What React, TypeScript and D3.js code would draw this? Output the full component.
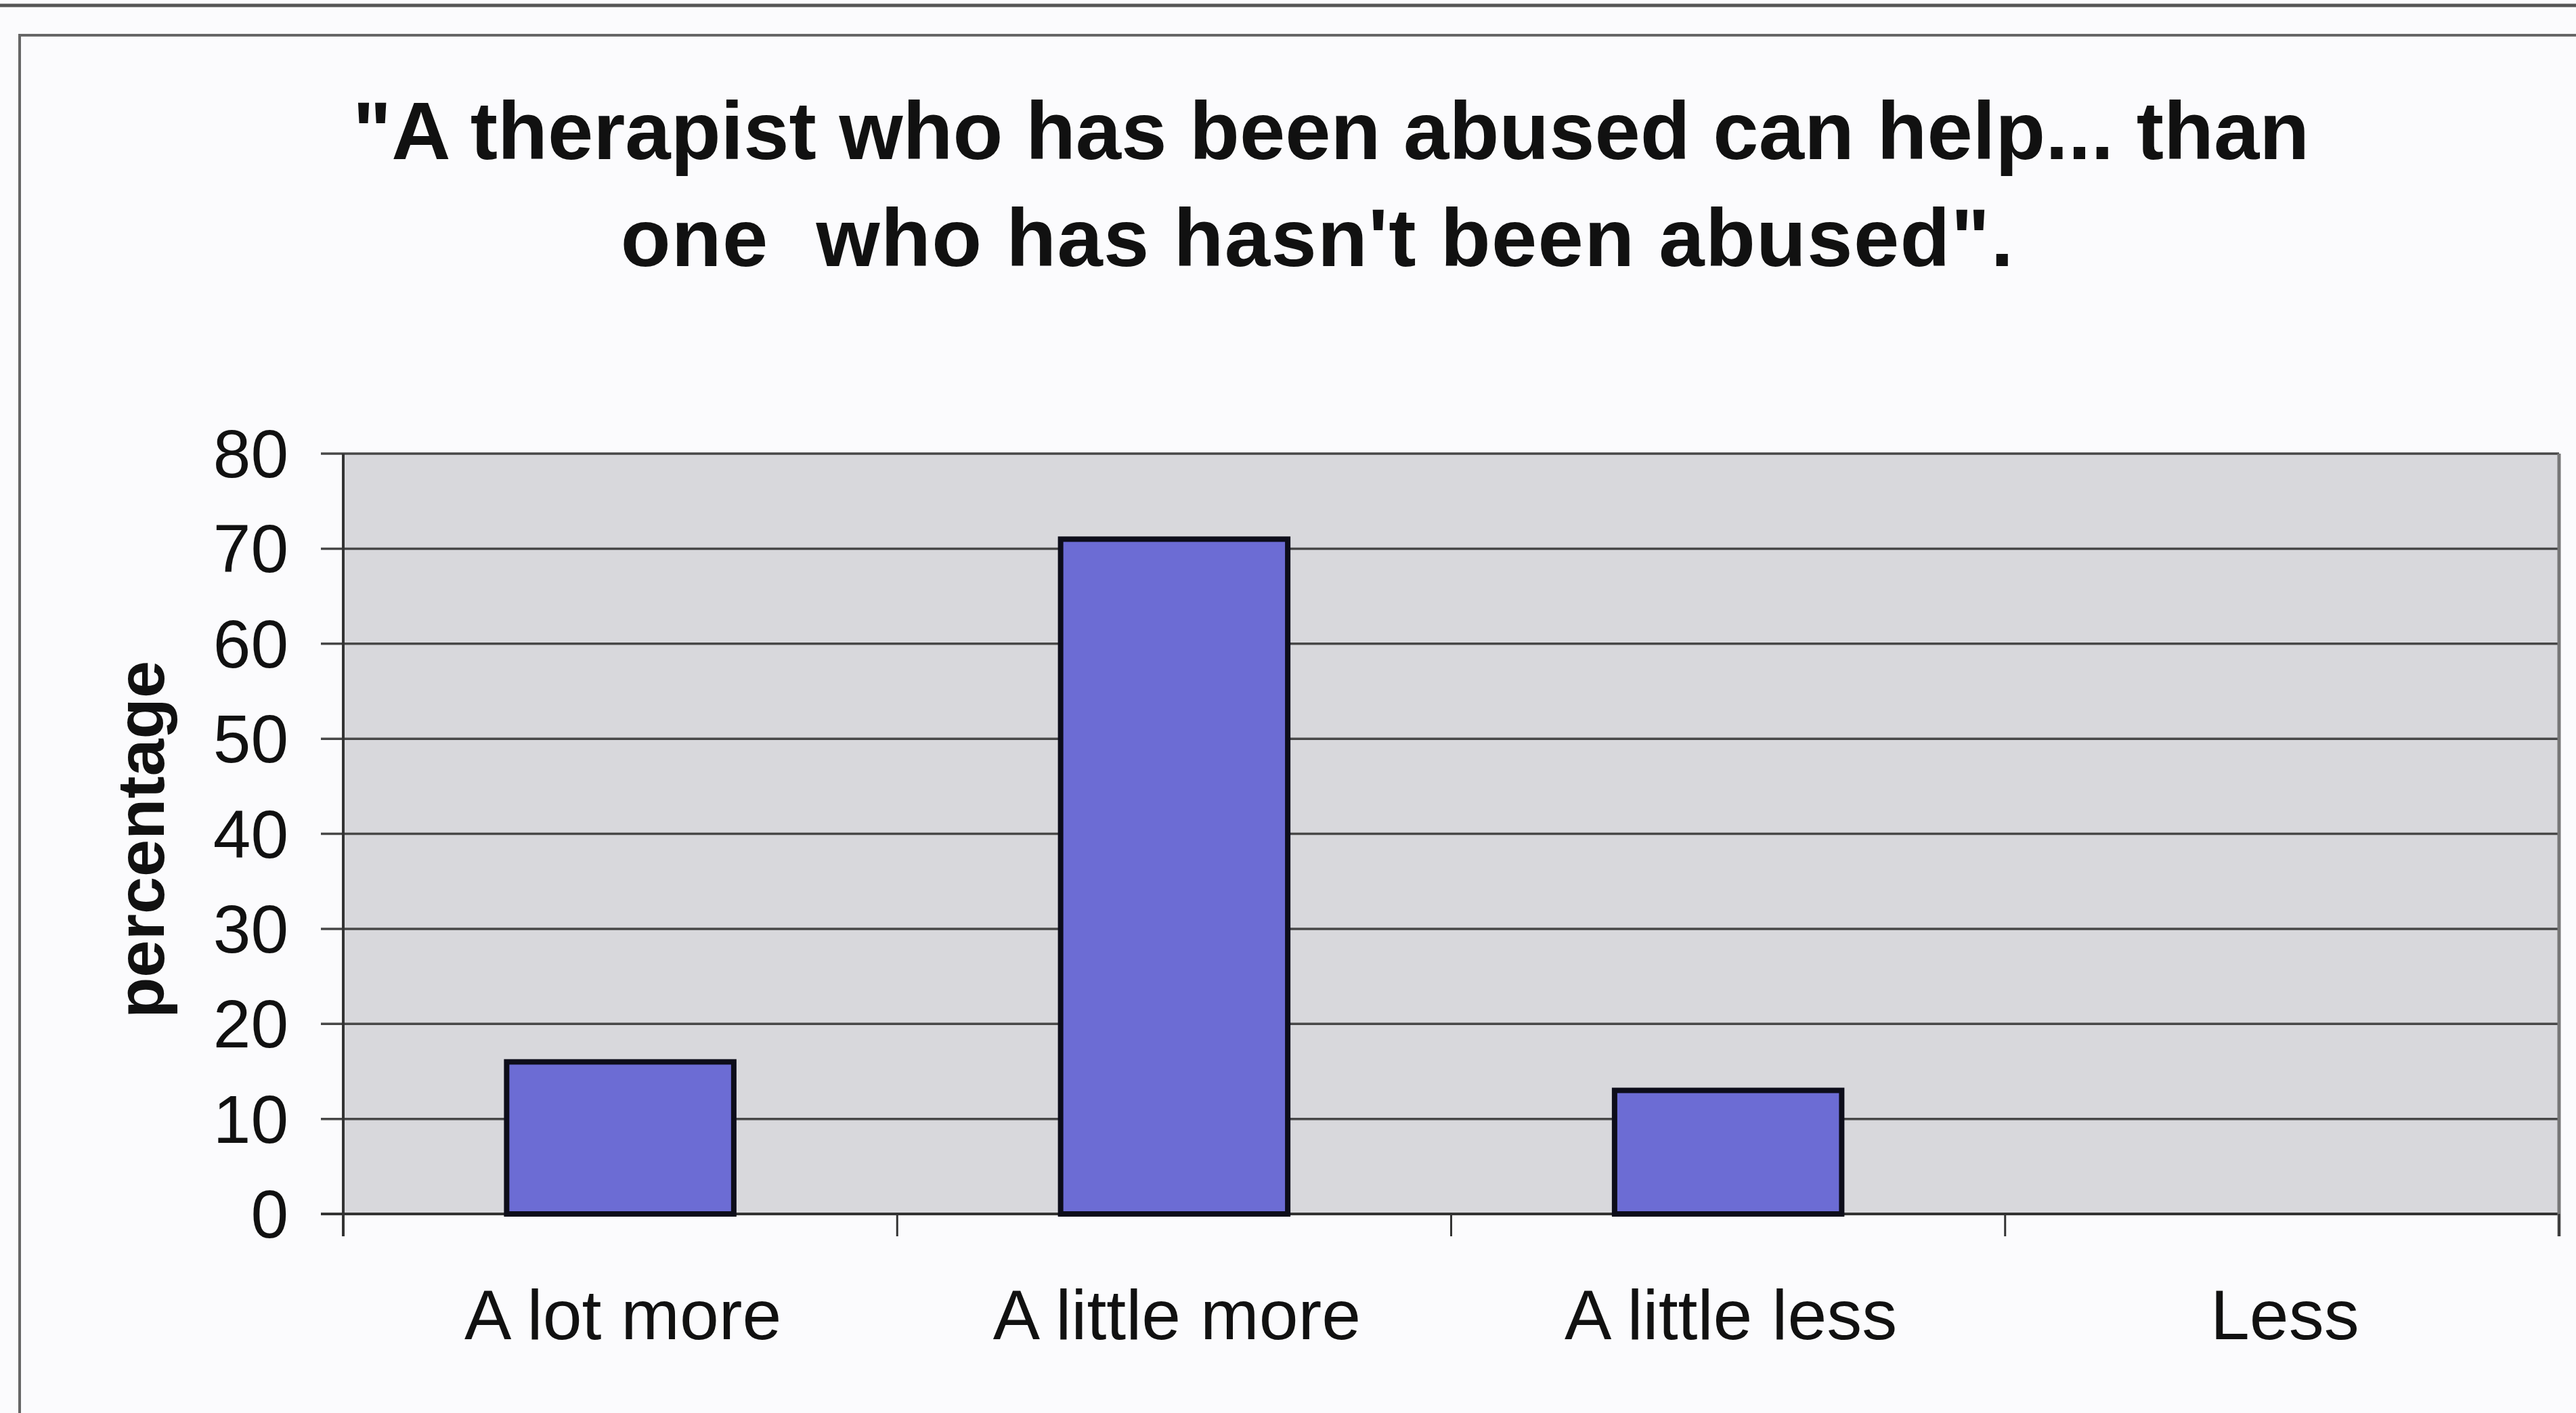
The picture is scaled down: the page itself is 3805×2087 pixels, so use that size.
import React from "react";
import * as d3 from "d3";

const categories = ["A lot more", "A little more", "A little less", "Less"];
const percentages = [16, 71, 13, 0];
const yTicks = [0, 10, 20, 30, 40, 50, 60, 70, 80];
const titleLines = [
  "\"A therapist who has been abused can help... than",
  "one  who has hasn't been abused\".",
];
const yAxisTitle = "percentage";

const W = 3805;
const H = 2087;

export default function App() {
  const plotL = 507;
  const plotR = 3780;
  const plotT = 670;
  const plotB = 1793;

  const x = d3.scaleBand<string>().domain(categories).range([plotL, plotR]).padding(0);
  const y = d3.scaleLinear().domain([0, 80]).range([plotB, plotT]);
  const barW = x.bandwidth() * 0.41;
  const boundaries = [...categories.map((c) => x(c) as number), plotR];

  const font = "'Liberation Sans', Arial, Helvetica, sans-serif";

  return (
    <svg
      width={W}
      height={H}
      viewBox={`0 0 ${W} ${H}`}
      style={{ position: "absolute", left: 0, top: 0, display: "block", background: "#fbfbfd" }}
    >
      <rect x={0} y={0} width={W} height={H} fill="#fbfbfd" />
      {/* page rule and frame */}
      <line x1={0} x2={W} y1={8} y2={8} stroke="#555" strokeWidth={5} />
      <rect x={29} y={52} width={W + 100} height={H + 100} fill="none" stroke="#666" strokeWidth={4} />

      {/* title */}
      <text
        x={1966}
        y={235}
        textAnchor="middle"
        fontFamily={font}
        fontWeight="bold"
        fontSize={121}
        fill="#111"
        style={{ whiteSpace: "pre" }}
      >
        {titleLines[0]}
      </text>
      <text
        x={1946}
        y={393}
        textAnchor="middle"
        fontFamily={font}
        fontWeight="bold"
        fontSize={121}
        letterSpacing={1.3}
        fill="#111"
        style={{ whiteSpace: "pre" }}
      >
        {titleLines[1]}
      </text>

      {/* plot background */}
      <rect x={plotL} y={plotT} width={plotR - plotL} height={plotB - plotT} fill="#d8d8dc" />

      {/* gridlines */}
      {yTicks.map((t) => (
        <line
          key={"g" + t}
          x1={474}
          x2={plotR}
          y1={y(t)}
          y2={y(t)}
          stroke={t === 0 ? "#333" : "#474747"}
          strokeWidth={t === 0 ? 4 : 3.5}
        />
      ))}

      {/* right border of plot */}
      <line x1={plotR} x2={plotR} y1={plotT} y2={1826} stroke="#777" strokeWidth={5} />

      {/* x ticks */}
      {boundaries.map((b, i) => (
        <line key={"xt" + i} x1={b} x2={b} y1={plotB} y2={1826} stroke="#333" strokeWidth={3} />
      ))}

      {/* left axis */}
      <line x1={plotL} x2={plotL} y1={plotT} y2={1826} stroke="#333" strokeWidth={4} />

      {/* bars */}
      {categories.map((c, i) =>
        percentages[i] > 0 ? (
          <rect
            key={"b" + c}
            x={(x(c) as number) + (x.bandwidth() - barW) / 2}
            y={y(percentages[i])}
            width={barW}
            height={y(0) - y(percentages[i])}
            fill="#6c6cd4"
            stroke="#0d0d1a"
            strokeWidth={8}
          />
        ) : null
      )}

      {/* y tick labels */}
      {yTicks.map((t) => (
        <text
          key={"yl" + t}
          x={426}
          y={y(t) + 35}
          textAnchor="end"
          fontFamily={font}
          fontSize={100}
          fill="#111"
        >
          {t}
        </text>
      ))}

      {/* x labels */}
      {categories.map((c) => (
        <text
          key={"xl" + c}
          x={(x(c) as number) + x.bandwidth() / 2 + 4}
          y={1978}
          textAnchor="middle"
          fontFamily={font}
          fontSize={104}
          fill="#111"
        >
          {c}
        </text>
      ))}

      {/* y axis title */}
      <text
        transform={`translate(242, 1240) rotate(-90)`}
        textAnchor="middle"
        fontFamily={font}
        fontWeight="bold"
        fontSize={99}
        fill="#111"
      >
        {yAxisTitle}
      </text>
    </svg>
  );
}
